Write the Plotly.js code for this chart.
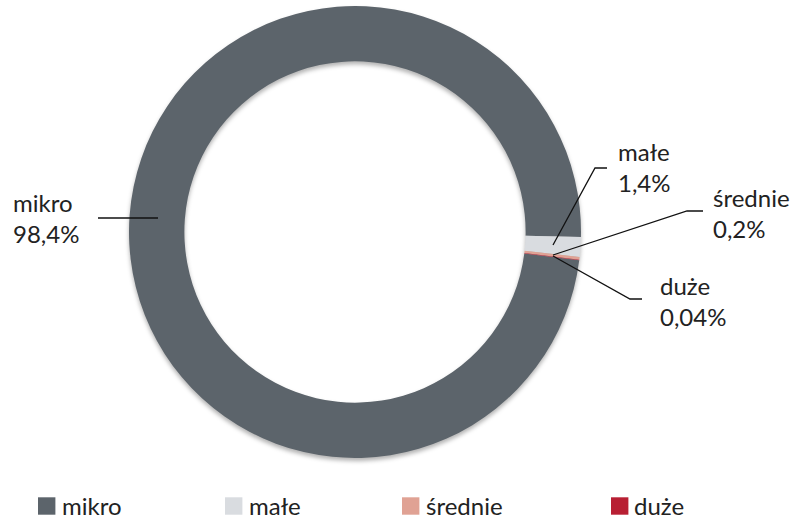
<!DOCTYPE html>
<html>
<head>
<meta charset="utf-8">
<script src="https://cdn.plot.ly/plotly-3.0.1.min.js"></script>
<style>
  html, body { margin: 0; padding: 0; background: #fff; }
  #chart { width: 794px; height: 519px; }
  .pielayer { filter: drop-shadow(0px 3px 2px rgba(0,0,0,0.30)); }
</style>
</head>
<body>
<div id="chart"></div>
<script>
// ---- data ----
const categories = ['mikro', 'małe', 'średnie', 'duże'];
const shares = [98.4, 1.4, 0.2, 0.04];
const shareLabels = ['98,4%', '1,4%', '0,2%', '0,04%'];
const colors = ['#5c646b', '#d9dce0', '#e0a294', '#b81f33'];

// ---- layout helpers (pixel -> paper) ----
const W = 794, H = 519;
const px = x => x / W;
const py = y => 1 - y / H;
const FONT = 'Lato, "Open Sans", sans-serif';
const TXT = '#222222';

// pie geometry
const cx = 355, cy = 232, R = 226;

const trace = {
  type: 'pie',
  labels: categories,
  values: shares,
  marker: { colors: colors, line: { width: 0 } },
  hole: 0.755,
  sort: false,
  direction: 'clockwise',
  rotation: 97.2,
  textinfo: 'none',
  hoverinfo: 'label+percent',
  domain: { x: [px(cx - R), px(cx + R)], y: [py(cy + R), py(cy - R)] },
  showlegend: true
};

// label positions (layout only)
const labelPos = [
  { x: 12,  y: 218.5 },
  { x: 617, y: 167.5 },
  { x: 712, y: 213 },
  { x: 659, y: 301 }
];
const annotations = categories.map((c, i) => ({
  xref: 'paper', yref: 'paper',
  x: px(labelPos[i].x), y: py(labelPos[i].y),
  xanchor: 'left', yanchor: 'middle', align: 'left',
  showarrow: false, borderpad: 0,
  text: c + '<br>' + shareLabels[i],
  font: { family: FONT, size: 24, color: TXT }
}));

// leader lines (layout only)
const leaderPaths = [
  [[98, 218], [158, 218]],
  [[607, 168], [595, 168], [553, 245]],
  [[703, 211], [687, 211], [553, 255]],
  [[553, 256], [630, 299], [642, 299]]
];
const shapes = leaderPaths.map(pts => ({
  type: 'path', xref: 'paper', yref: 'paper',
  path: pts.map((p, j) => (j ? 'L' : 'M') + px(p[0]) + ',' + py(p[1])).join(' '),
  line: { color: '#111111', width: 1.3 }
}));

// legend entry placement (layout only): swatch left edges, text left edges, row centre
const legSwatchLeft = [38, 225, 402, 611];
const legTextLeft = [62, 249, 426, 634];
const legRowY = 506;

const layout = {
  width: W, height: H,
  margin: { l: 0, r: 0, t: 0, b: 0, autoexpand: false },
  paper_bgcolor: '#ffffff',
  plot_bgcolor: '#ffffff',
  font: { family: FONT, color: TXT },
  showlegend: true,
  legend: {
    orientation: 'h',
    xref: 'container', yref: 'container',
    x: 20 / W, xanchor: 'left',
    y: 0, yanchor: 'bottom',
    font: { family: FONT, size: 24, color: TXT },
    entrywidth: 146,
    entrywidthmode: 'pixels',
    traceorder: 'normal',
    bgcolor: 'rgba(0,0,0,0)'
  },
  annotations: annotations,
  shapes: shapes
};

Plotly.newPlot('chart', [trace], layout, { displayModeBar: false, staticPlot: true }).then(gd => {
  const root = gd.getBoundingClientRect();
  gd.querySelectorAll('.legend [clip-path]').forEach(el => el.removeAttribute('clip-path'));
  gd.querySelectorAll('.legend .traces').forEach((g, i) => {
    const p = g.querySelector('path.legendpie');
    const t = g.querySelector('text.legendtext');
    if (p) {
      p.setAttribute('transform', 'scale(1.45)');
      const r = p.getBoundingClientRect();
      const dx = legSwatchLeft[i] - (r.left - root.left);
      const dy = legRowY - ((r.top + r.bottom) / 2 - root.top);
      p.setAttribute('transform', 'translate(' + dx + ',' + dy + ') scale(1.45)');
      if (t) {
        const tr = t.getBoundingClientRect();
        const tx = parseFloat(t.getAttribute('x') || 0) + (legTextLeft[i] - (tr.left - root.left));
        t.setAttribute('x', tx);
        t.setAttribute('transform', 'translate(0,' + dy + ')');
      }
    }
  });
});
</script>
</body>
</html>
